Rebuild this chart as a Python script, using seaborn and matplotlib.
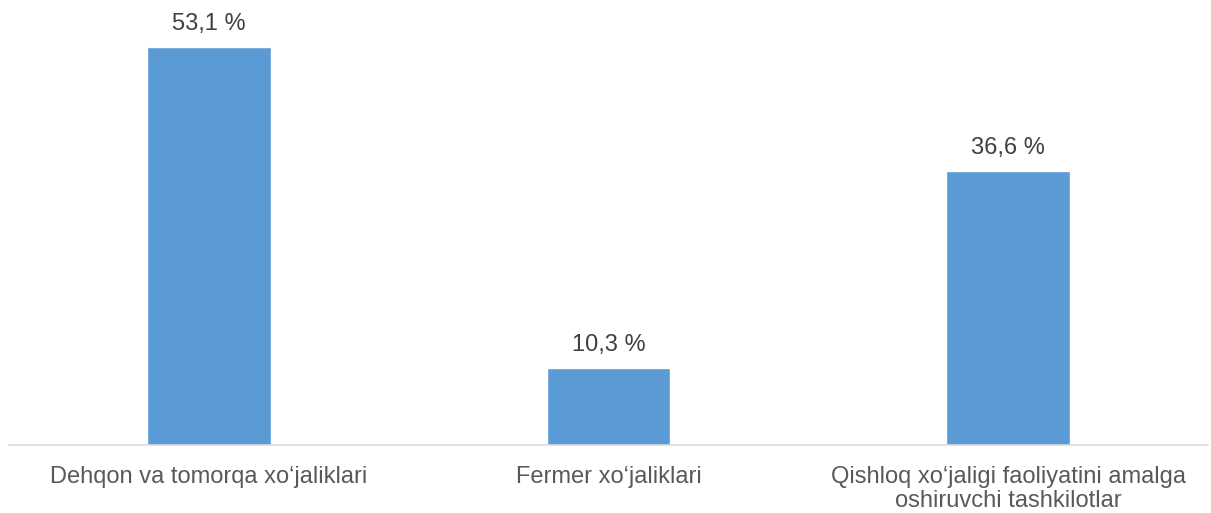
import matplotlib
matplotlib.use("Agg")
import matplotlib.pyplot as plt
import seaborn as sns
import pandas as pd

categories = ["Dehqon va tomorqa xo‘jaliklari",
              "Fermer xo‘jaliklari",
              "Qishloq xo‘jaligi faoliyatini amalga\noshiruvchi tashkilotlar"]
values = [53.1, 10.3, 36.6]
value_labels = ["53,1 %", "10,3 %", "36,6 %"]

sns.set_theme(style="white")
plt.rcParams['font.family'] = ['Liberation Sans', 'DejaVu Sans']

df = pd.DataFrame({"cat": categories, "val": values})

W, H = 1211, 513
fig = plt.figure(figsize=(W / 100, H / 100), dpi=100)
ax = fig.add_axes([9 / W, 68 / H, 1199 / W, 442 / H])

sns.barplot(data=df, x="cat", y="val", color="#5B9BD5", saturation=1,
            width=0.31, ax=ax)

ax.set_xlim(-0.5, 2.5)
ax.set_ylim(0, 59)
ax.set_xlabel("")
ax.set_ylabel("")
ax.set_yticks([])
for s in ["top", "right", "left"]:
    ax.spines[s].set_visible(False)
ax.spines["bottom"].set_color("#D9D9D9")
ax.spines["bottom"].set_linewidth(1.1)
ax.tick_params(axis="x", length=0, pad=15, labelsize=17, labelcolor="#595959")
for t in ax.get_xticklabels():
    t.set_linespacing(1.1)

for i, (v, lab) in enumerate(zip(values, value_labels)):
    ax.annotate(lab, (i, v), xytext=(0, 12.2), textcoords="offset points",
                ha="center", va="baseline", fontsize=17, color="#404040")

fig.savefig("out.png", dpi=100)
